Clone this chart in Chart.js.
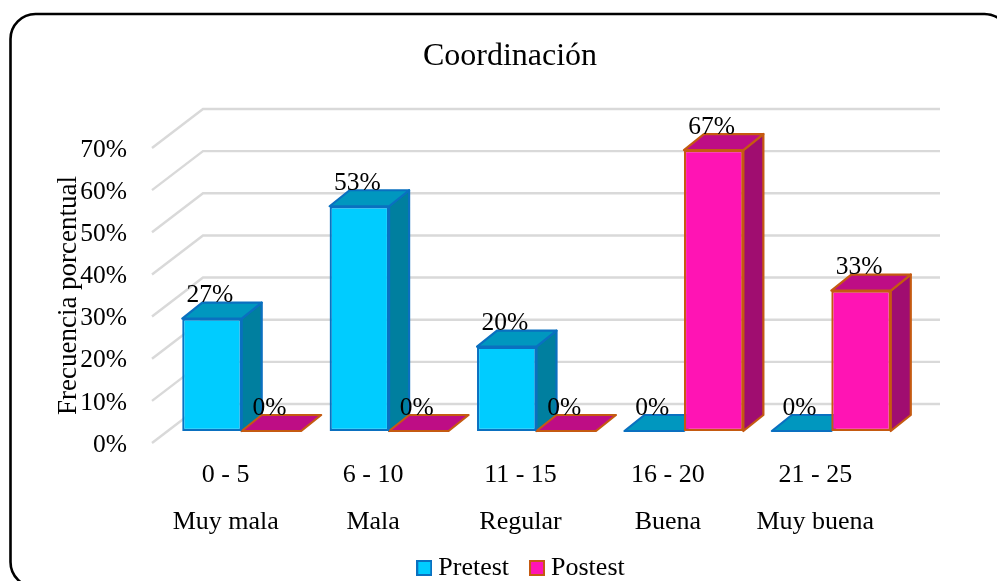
<!DOCTYPE html>
<html><head><meta charset="utf-8">
<style>html,body{margin:0;padding:0;background:#fff;overflow:hidden}#w{width:997px;height:581px;position:relative}</style>
<script src="https://cdn.jsdelivr.net/npm/chart.js@4"></script>
</head><body><div id="w"><canvas id="c" width="997" height="581"></canvas></div>
<script>
const categories = [["0 - 5","Muy mala"],["6 - 10","Mala"],["11 - 15","Regular"],["16 - 20","Buena"],["21 - 25","Muy buena"]];
const pretest = [26.67,53.33,20,0,0];
const postest = [0,0,0,66.67,33.33];
const yTicks = [0,10,20,30,40,50,60,70];
const FONT = '"Liberation Serif","Times New Roman",serif';
const BLUE = {front:'#00CCFF',line:'#0A70C0',side:'#007F9F',top:'#0097BF'};
const PINK = {front:'#FF14B4',line:'#C55A11',side:'#A00D70',top:'#BE0D85'};
const WALL = {dx:51,dy:39}, SHIFT = {dx:16,dy:12}, DEPTH = {dx:20,dy:16};
const LEGEND_DOWN = -17, LEGEND_RIGHT = 14;

function swatch(col){
  const s=document.createElement('canvas');s.width=16;s.height=16;
  const x=s.getContext('2d');x.fillStyle=col.front;x.fillRect(1,1,14,14);
  x.strokeStyle=col.line;x.lineWidth=2;x.strokeRect(1,1,14,14);return s;
}
function poly(ctx,pts,fill,line){
  ctx.beginPath();pts.forEach((p,i)=>i?ctx.lineTo(p[0],p[1]):ctx.moveTo(p[0],p[1]));ctx.closePath();
  ctx.fillStyle=fill;ctx.fill();ctx.strokeStyle=line;ctx.lineWidth=2.2;ctx.lineJoin='round';ctx.stroke();
}
const scene = {
  id:'scene',
  beforeDraw(chart){
    const c=chart.ctx;c.save();c.fillStyle='#fff';c.fillRect(0,0,997,581);
    c.strokeStyle='#000';c.lineWidth=2.6;c.beginPath();c.roundRect(10.5,14,999,573,25);c.stroke();c.restore();
    chart.scales.y.getLabelItems().forEach(i=>{i.options.translation[1]+=2;});
  },
  afterLayout(chart){ const l=chart.legend; l.left+=LEGEND_RIGHT; l.right+=LEGEND_RIGHT; l.top+=LEGEND_DOWN; l.bottom+=LEGEND_DOWN; },
  beforeDatasetsDraw(chart){
    const c=chart.ctx,y=chart.scales.y,a=chart.chartArea;
    c.save();c.strokeStyle='#D9D9D9';c.lineWidth=2.4;
    yTicks.forEach(v=>{const p=y.getPixelForValue(v);
      c.beginPath();c.moveTo(a.left,p);c.lineTo(a.left+WALL.dx,p-WALL.dy);c.lineTo(a.right+WALL.dx,p-WALL.dy);c.stroke();});
    c.restore();
    c.save();c.translate(SHIFT.dx,-SHIFT.dy);
    [[0,BLUE],[1,PINK]].forEach(([i,col])=>{
      chart.getDatasetMeta(i).data.forEach(b=>{
        const l=b.x-b.width/2,r=b.x+b.width/2,t=b.y,bt=b.base,dx=DEPTH.dx,dy=DEPTH.dy;
        if(bt-t>1) poly(c,[[r,t],[r+dx,t-dy],[r+dx,bt-dy],[r,bt]],col.side,col.line);
        poly(c,[[l,t],[l+dx,t-dy],[r+dx,t-dy],[r,t]],col.top,col.line);
      });
    });
    c.restore();
    c.save();c.translate(SHIFT.dx,-SHIFT.dy);
  },
  afterDatasetsDraw(chart){
    const c=chart.ctx;c.restore();
    c.save();c.font='25.5px '+FONT;c.fillStyle='#000';c.textAlign='center';c.textBaseline='middle';
    chart.data.datasets.forEach((d,i)=>chart.getDatasetMeta(i).data.forEach((b,j)=>{
      c.fillText(Math.round(d.data[j])+'%',b.x+SHIFT.dx-2,b.y-SHIFT.dy-23);
    }));
    c.restore();
  }
};
new Chart(document.getElementById('c'),{
  type:'bar',
  plugins:[scene],
  data:{labels:categories,datasets:[
    {label:'Pretest',data:pretest,backgroundColor:BLUE.front,borderColor:BLUE.line,borderWidth:2.2,borderSkipped:false,pointStyle:swatch(BLUE)},
    {label:'Postest',data:postest,backgroundColor:PINK.front,borderColor:PINK.line,borderWidth:2.2,borderSkipped:false,pointStyle:swatch(PINK)}
  ]},
  options:{
    responsive:false,animation:false,events:[],
    layout:{padding:{left:55,right:32,top:0,bottom:-27}},
    datasets:{bar:{categoryPercentage:0.807,barPercentage:1}},
    plugins:{
      tooltip:{enabled:false},
      title:{display:true,text:'Coordinación',color:'#000',font:{family:FONT,size:32,weight:'normal',lineHeight:1},padding:{top:41,bottom:75}},
      legend:{position:'bottom',labels:{color:'#000',font:{family:FONT,size:26},usePointStyle:true,pointStyleWidth:2,boxHeight:15,padding:27,
        generateLabels(chart){return chart.data.datasets.map((d,i)=>({text:d.label,fontColor:'#000',pointStyle:d.pointStyle,fillStyle:d.backgroundColor,strokeStyle:d.borderColor,lineWidth:0,datasetIndex:i}));}}}
    },
    scales:{
      x:{grid:{display:false},border:{display:false},
        ticks:{color:'#000',font:{family:FONT,size:26,lineHeight:1.81},padding:1,maxRotation:0,autoSkip:false},
        afterFit(s){s.height=102;}},
      y:{min:0,max:70,position:'left',grid:{display:false},border:{display:false},
        title:{display:true,text:'Frecuencia porcentual',color:'#000',font:{family:FONT,size:27,lineHeight:1},padding:0},
        ticks:{color:'#000',font:{family:FONT,size:25.5},padding:17,stepSize:10,callback:v=>v+'%'},
        afterFit(s){s.width=97;}},
      yRight:{position:'right',display:true,grid:{display:false},border:{display:false},ticks:{display:false},afterFit(s){s.width=76;}}
    }
  }
});
</script></body></html>
